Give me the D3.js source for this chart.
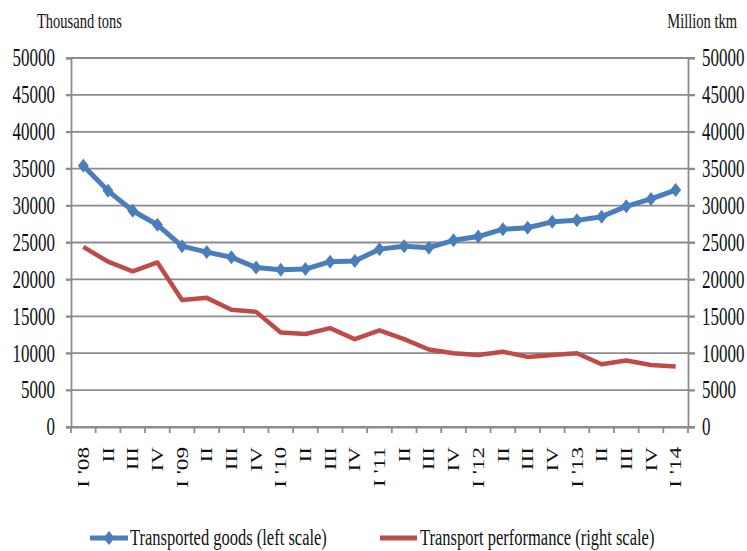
<html>
<head>
<script src="https://d3js.org/d3.v7.min.js"></script>
<style>
  body { margin: 0; background: #fff; }
  text { font-family: "Liberation Serif", "Times New Roman", serif; fill: #111; }
</style>
</head>
<body>
<script>
// quarters, I '08 .. I '14
var quarters = ["I '08","II","III","IV","I '09","II ","III ","IV ","I '10","II  ","III  ","IV  ",
                "I '11","II   ","III   ","IV   ","I '12","II    ","III    ","IV    ","I '13","II     ","III     ","IV     ","I '14"];
// thousand tons (left scale)
var goods = [35400, 32000, 29300, 27400, 24500, 23700, 23000, 21600, 21300, 21400, 22400, 22500,
             24100, 24500, 24300, 25300, 25800, 26800, 27000, 27800, 28000, 28500, 29900, 30900, 32100];
// million tkm (right scale)
var performance = [24400, 22400, 21100, 22300, 17200, 17500, 15900, 15600, 12800, 12600, 13400, 11900,
                   13100, 11900, 10500, 10000, 9750, 10200, 9500, 9750, 10000, 8500, 9000, 8400, 8200];
var yTicks = [0, 5000, 10000, 15000, 20000, 25000, 30000, 35000, 40000, 45000, 50000];

var W = 747, H = 551;
var plotLeft = 71, plotRight = 688, plotTop = 58, plotBottom = 427;
var stretch = 1.45;
var gridColor = "#8c8c8c";
var blue = "#4a7ebb", red = "#be4b48";

var svg = d3.select("body").append("svg")
    .attr("width", W)
    .attr("height", H);

var x = d3.scaleBand().domain(quarters).range([plotLeft, plotRight]);
var yL = d3.scaleLinear().domain([0, 50000]).range([plotBottom, plotTop]);
var yR = d3.scaleLinear().domain([0, 50000]).range([plotBottom, plotTop]);
var cx = d => x(d) + x.bandwidth() / 2;

// gridlines
svg.append("g").selectAll("line").data(yTicks).enter()
    .append("line")
    .attr("x1", plotLeft - 5).attr("x2", plotRight + 7)
    .attr("y1", d => yL(d)).attr("y2", d => yL(d))
    .style("stroke", gridColor).style("stroke-width", 1.8);

// left axis
var axL = svg.append("g")
    .attr("transform", "translate(" + plotLeft + ",0)")
    .call(d3.axisLeft(yL).tickValues(yTicks).tickSize(5).tickPadding(11).tickFormat(d3.format("d")));
// right axis
var axR = svg.append("g")
    .attr("transform", "translate(" + plotRight + ",0)")
    .call(d3.axisRight(yR).tickValues(yTicks).tickSize(7).tickPadding(7).tickFormat(d3.format("d")));
// bottom axis, ticks between categories
var axB = svg.append("g")
    .attr("transform", "translate(0," + plotBottom + ")")
    .call(d3.axisBottom(x).tickSize(0).tickFormat(""));
axB.selectAll(".tick").remove();
axB.append("g").selectAll("line").data(quarters.concat(["end"])).enter()
    .append("line")
    .attr("x1", (d, i) => plotLeft + i * x.step()).attr("x2", (d, i) => plotLeft + i * x.step())
    .attr("y1", 0).attr("y2", 6)
    .style("stroke", gridColor).style("stroke-width", 1.8);

[axL, axR, axB].forEach(function(a) {
    a.select(".domain").style("stroke", gridColor).style("stroke-width", 1.8);
    a.selectAll(".tick line").style("stroke", gridColor).style("stroke-width", 1.8);
    a.selectAll(".tick text")
        .style("font-size", "17px")
        .style("font-family", "Liberation Serif")
        .attr("fill", "#111");
});
// stretch tick labels vertically, keep them centred on their tick
[axL, axR].forEach(function(a) {
    a.selectAll(".tick text")
        .attr("dy", "0.32em")
        .attr("transform", "scale(1," + stretch + ")");
});

// category labels, rotated
svg.append("g").selectAll("g").data(quarters).enter()
    .append("g")
    .attr("transform", d => "translate(" + cx(d) + ",447) scale(1," + stretch + ") rotate(-90)")
    .append("text")
    .attr("text-anchor", "end")
    .attr("dy", "0.35em")
    .style("font-size", "16px")
    .text(d => d.trim());

// axis titles
svg.append("text")
    .attr("transform", "translate(37,28) scale(1," + stretch + ")")
    .style("font-size", "14.5px")
    .text("Thousand tons");
svg.append("text")
    .attr("transform", "translate(737,28) scale(1," + stretch + ")")
    .attr("text-anchor", "end")
    .style("font-size", "14.5px")
    .text("Million tkm");

// lines
var lineL = d3.line().x((d, i) => cx(quarters[i])).y(d => yL(d));
var lineR = d3.line().x((d, i) => cx(quarters[i])).y(d => yR(d));

svg.append("path").datum(performance)
    .attr("d", lineR)
    .style("fill", "none").style("stroke", red).style("stroke-width", 4.5)
    .style("stroke-linejoin", "round");

svg.append("path").datum(goods)
    .attr("d", lineL)
    .style("fill", "none").style("stroke", blue).style("stroke-width", 5)
    .style("stroke-linejoin", "round");

function diamond(px, py) {
    return "M" + px + "," + (py - 7) + "L" + (px + 5.5) + "," + py + "L" + px + "," + (py + 7) + "L" + (px - 5.5) + "," + py + "Z";
}
svg.append("g").selectAll("path").data(goods).enter()
    .append("path")
    .attr("d", (d, i) => diamond(cx(quarters[i]), yL(d)))
    .style("fill", blue);

// legend
var lg = svg.append("g");
lg.append("line").attr("x1", 90).attr("x2", 128).attr("y1", 538).attr("y2", 538)
    .style("stroke", blue).style("stroke-width", 5);
lg.append("path").attr("d", diamond(109, 538)).style("fill", blue);
lg.append("text")
    .attr("transform", "translate(130,545) scale(1," + stretch + ")")
    .style("font-size", "16.5px")
    .text("Transported goods (left scale)");
lg.append("line").attr("x1", 380).attr("x2", 417).attr("y1", 538).attr("y2", 538)
    .style("stroke", red).style("stroke-width", 5);
lg.append("text")
    .attr("transform", "translate(420,545) scale(1," + stretch + ")")
    .style("font-size", "16.5px")
    .text("Transport performance (right scale)");
</script>
</body>
</html>
